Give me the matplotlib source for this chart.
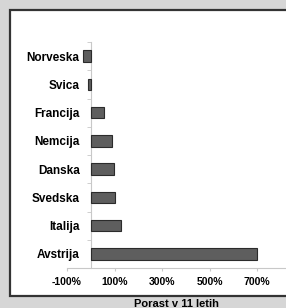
import matplotlib
matplotlib.use("Agg")
import matplotlib.pyplot as plt
from matplotlib.patches import Rectangle
import numpy as np

# data, bottom to top
countries = ["Avstrija", "Italija", "Svedska", "Danska", "Nemcija", "Francija", "Svica", "Norveska"]
growth = [700, 128, 102, 97, 88, 54, -11, -31]
xticks = [-100, 100, 300, 500, 700]
xlabel = "Porast v 11 letih"

plt.rcParams['font.family'] = ['Liberation Sans', 'DejaVu Sans']

W, H = 286, 308
fig = plt.figure(figsize=(W / 100, H / 100), dpi=100)
fig.patch.set_facecolor('#d6d6d6')

# white panel with dark frame (runs off the right edge)
frame = Rectangle((9.5 / W, (H - 296) / H), 1.0, (296 - 9.5) / H,
                  transform=fig.transFigure, facecolor='white',
                  edgecolor='#333333', linewidth=1.6, zorder=-10)
fig.add_artist(frame)

ax = fig.add_axes([67 / W, (H - 268) / H, (W - 67) / W, 226 / H])
ax.set_zorder(5)
ax.set_facecolor('none')

y = np.arange(len(countries))
ax.barh(y, growth, height=0.4, color='#5e5e5e', edgecolor='#2b2b2b', linewidth=0.8, zorder=3)

ax.set_xlim(-100, 822)
ax.set_ylim(-0.5, len(countries) - 0.5)

for s in ['top', 'right']:
    ax.spines[s].set_visible(False)
ax.spines['left'].set_position(('data', 0))
ax.spines['left'].set_color('#c8c8c8')
ax.spines['bottom'].set_color('#c8c8c8')
ax.spines['left'].set_linewidth(0.8)
ax.spines['bottom'].set_linewidth(0.8)

ax.set_xticks(xticks)
ax.set_xticklabels([f"{v}%" for v in xticks])
ax.tick_params(axis='x', length=2.5, color='#c8c8c8', pad=4, labelsize=7.5)
for t in ax.get_xticklabels():
    t.set_fontweight('bold')

ax.set_yticks(y)
ax.set_yticklabels(countries)
ax.set_yticks(np.arange(len(countries) + 1) - 0.5, minor=True)
ax.tick_params(axis='y', which='major', length=0, pad=8, labelsize=8.5)
ax.tick_params(axis='y', which='minor', length=3, color='#c8c8c8')
for t in ax.get_yticklabels():
    t.set_fontweight('bold')

fig.text(134 / W, (H - 299) / H, xlabel, ha='left', va='top',
         fontsize=8, fontweight='bold')

fig.savefig("out.png", dpi=100, facecolor=fig.get_facecolor())
